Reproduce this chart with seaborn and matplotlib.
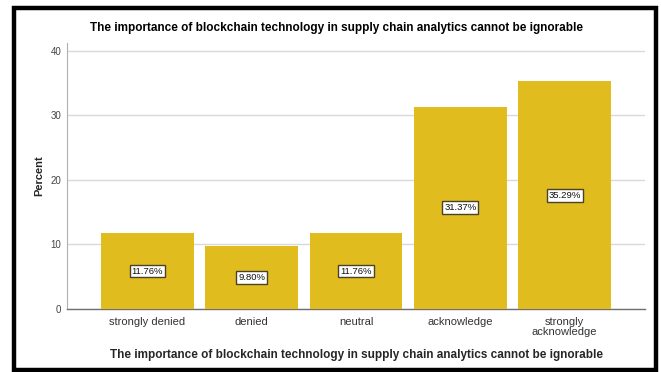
import matplotlib
matplotlib.use("Agg")
import matplotlib.pyplot as plt
import seaborn as sns
import pandas as pd
from matplotlib.patches import Rectangle

categories = ["strongly denied", "denied", "neutral", "acknowledge", "strongly\nacknowledge"]
percent = [11.76, 9.80, 11.76, 31.37, 35.29]
y_ticks = [0, 10, 20, 30, 40]
title = "The importance of blockchain technology in supply chain analytics cannot be ignorable"

df = pd.DataFrame({"category": categories, "percent": percent})

sns.set_theme(style="white")
plt.rcParams["font.family"] = ["Liberation Sans", "DejaVu Sans"]

fig = plt.figure(figsize=(6.61, 3.72), dpi=100)
ax = fig.add_axes([0.1014, 0.1694, 0.8744, 0.715])

sns.barplot(data=df, x="category", y="percent", color="#E0BC1F", saturation=1,
            width=0.89, ax=ax, zorder=3, edgecolor="none")

ax.set_xlim(-0.77, 4.77)
ax.set_ylim(0, 41.24)
ax.set_yticks(y_ticks)
ax.set_yticklabels([str(t) for t in y_ticks], fontsize=7, color="#444444")
ax.tick_params(axis="both", length=0)
ax.tick_params(axis="y", pad=4)
ax.tick_params(axis="x", pad=6)
for lab in ax.get_xticklabels():
    lab.set_fontsize(8)
    lab.set_color("#333333")
    lab.set_linespacing(0.95)

ax.yaxis.grid(True, color="#d9d9d9", linewidth=1, zorder=0)
ax.set_axisbelow(True)
for s in ["top", "right"]:
    ax.spines[s].set_visible(False)
ax.spines["left"].set_color("#b0b0b0")
ax.spines["left"].set_linewidth(0.8)
ax.spines["bottom"].set_color("#707070")
ax.spines["bottom"].set_linewidth(1.0)

ax.set_ylabel("Percent", fontsize=8, fontweight="bold", labelpad=5)
ax.set_xlabel(title, fontsize=8.5, fontweight="bold", labelpad=9)
fig.text(337 / 661, 1 - 28 / 372, title, ha="center", va="center",
         fontsize=8.5, fontweight="bold", color="black")

for i, v in enumerate(percent):
    ax.text(i, v / 2, f"{v:.2f}%", ha="center", va="center", fontsize=6.8,
            color="#111111", zorder=5,
            bbox=dict(boxstyle="square,pad=0.2", facecolor="white",
                      edgecolor="#4a4228", linewidth=1.0))

# outer frame
fig.patches.append(Rectangle((14 / 661, 2 / 372), 642 / 661, 362 / 372,
                             transform=fig.transFigure, fill=False,
                             edgecolor="black", linewidth=3.2))

fig.savefig("out.png", dpi=100)
